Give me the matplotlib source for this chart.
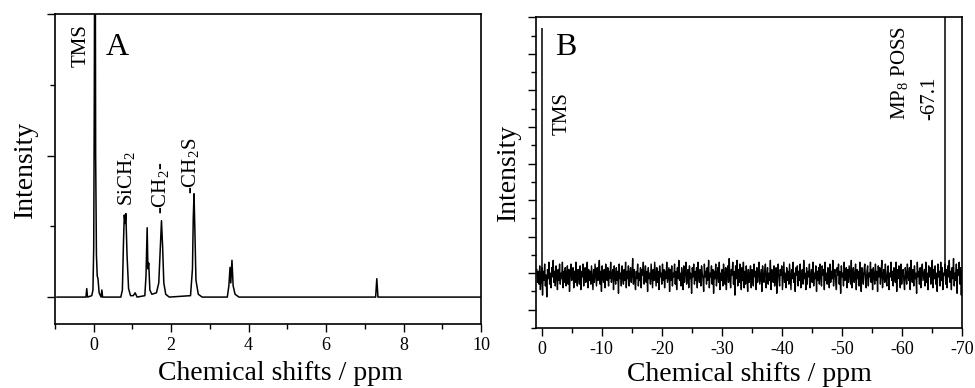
import matplotlib.pyplot as plt
import numpy as np
from matplotlib.ticker import MultipleLocator, NullFormatter

plt.rcParams['font.family'] = ['Liberation Serif', 'DejaVu Serif']
plt.rcParams['mathtext.fontset'] = 'custom'
plt.rcParams['mathtext.rm'] = 'Liberation Serif'
plt.rcParams['axes.unicode_minus'] = False

# Panel A: 1H spectrum (ppm, intensity)
a_ppm = [-0.95, -0.20, -0.18, -0.16, -0.05, -0.02, 0.00, 0.015, 0.025, 0.04, 0.05, 0.07,
         0.09, 0.11, 0.14, 0.19, 0.21, 0.23, 0.70, 0.74, 0.77, 0.79, 0.81, 0.83, 0.86,
         0.90, 0.95, 1.02, 1.07, 1.12, 1.32, 1.35, 1.38, 1.40, 1.42, 1.43, 1.45, 1.50,
         1.62, 1.68, 1.72, 1.75, 1.78, 1.81, 1.86, 1.95, 2.50, 2.55, 2.57, 2.59, 2.61,
         2.64, 2.70, 2.80, 3.45, 3.49, 3.52, 3.54, 3.57, 3.60, 3.65, 3.75, 7.28, 7.31,
         7.34, 10.0]
a_int = [0.0, 0.0, 0.06, 0.0, 0.01, 0.05, 0.35, 1.40, 2.60, 2.60, 1.00, 0.30,
         0.15, 0.13, 0.03, 0.0, 0.05, 0.0, 0.0, 0.05, 0.40, 0.58, 0.52, 0.59, 0.30,
         0.06, 0.01, 0.01, 0.03, 0.0, 0.01, 0.15, 0.49, 0.20, 0.24, 0.18, 0.05, 0.02,
         0.03, 0.10, 0.35, 0.54, 0.35, 0.10, 0.02, 0.0, 0.01, 0.20, 0.55, 0.73, 0.50,
         0.12, 0.02, 0.0, 0.0, 0.08, 0.21, 0.10, 0.26, 0.08, 0.02, 0.0, 0.0, 0.13,
         0.0, 0.0]

# Panel B: 29Si spectrum, baseline noise
b_noise = [
    0.10, -0.25, 0.05, -0.30, 0.20, -0.45, -0.10, 0.15, -0.60, 0.05, -0.20, 0.25, -0.35, -0.05, -0.65, 0.10, -0.15, 0.30, -0.30, 0.00,
    -0.40, 0.15, -0.10, 0.35, -0.25, 0.05, -0.35, 0.20, -0.05, -0.45, 0.10, -0.20, 0.25, -0.30, 0.00, -0.15, 0.30, -0.40, 0.05, -0.25,
    0.15, -0.35, -0.05, 0.20, -0.30, 0.10, -0.50, 0.00, 0.25, -0.20, -0.10, 0.15, -0.40, 0.05, -0.25, 0.30, -0.15, -0.35, 0.10, -0.05,
    -0.30, 0.20, -0.45, 0.05, -0.10, 0.25, -0.35, 0.00, 0.15, -0.25, -0.05, 0.30, -0.40, 0.10, -0.20, 0.05, -0.30, 0.20, -0.15, -0.45,
    0.10, -0.25, 0.25, -0.05, -0.35, 0.15, -0.20, 0.00, 0.35, -0.30, 0.05, -0.50, 0.20, -0.10, -0.25, 0.10, -0.40, 0.25, -0.05, -0.20,
    0.15, -0.35, 0.05, -0.15, 0.30, -0.25, -0.05, 0.10, -0.45, 0.20, -0.10, -0.30, 0.15, -0.20, 0.05, -0.55, 0.25, -0.15, 0.00, -0.35,
    0.20, -0.10, -0.30, 0.10, -0.20, 0.30, -0.40, 0.05, -0.15, 0.20, -0.35, 0.00, 0.15, -0.25, -0.05, 0.40, -0.30, 0.10, -0.20, -0.45,
    0.05, -0.15, 0.25, -0.35, 0.00, -0.20, 0.15, -0.40, 0.10, -0.05, 0.30, -0.30, -0.10, 0.20, -0.25, 0.05, -0.50, 0.15, -0.15, 0.00,
    -0.30, 0.25, -0.10, -0.40, 0.10, -0.20, 0.30, -0.05, -0.35, 0.15, -0.25, 0.05, -0.45, 0.20, -0.10, 0.00, -0.30, 0.25, -0.20, 0.10,
    -0.40, 0.05, -0.15, 0.30, -0.25, -0.05, 0.15, -0.50, 0.10, -0.20, 0.20, -0.35, 0.00, -0.10, 0.25, -0.30, 0.05, -0.45, 0.15, -0.15,
    0.35, -0.20, 0.00, -0.35, 0.15, -0.10, -0.45, 0.20, -0.25, 0.05, 0.30, -0.30, -0.05, 0.10, -0.40, 0.20, -0.15, 0.00, -0.55, 0.15,
    -0.10, 0.25, -0.30, 0.05, -0.20, 0.15, -0.40, 0.30, -0.05, -0.25, 0.10, -0.35, 0.20, 0.00, -0.15, -0.50, 0.25, -0.10, 0.05, -0.30,
    0.15, -0.20, 0.35, -0.40, 0.00, -0.10, 0.20, -0.30, 0.10, -0.55, 0.05, -0.15, 0.25, -0.35, -0.05, 0.15, -0.25, 0.30, -0.45, 0.00,
    -0.20, 0.10, -0.35, 0.25, -0.05, -0.30, 0.15, -0.45, 0.05, 0.20, -0.25, 0.40, -0.15, -0.40, 0.10, -0.05, 0.30, -0.30, 0.05, -0.60,
    0.20, -0.15, 0.35, -0.35, 0.10, -0.25, 0.25, -0.05, -0.45, 0.15, -0.20, 0.30, -0.40, 0.05, -0.30, 0.20, -0.10, -0.50, 0.10, -0.25,
    -0.05, 0.20, -0.40, 0.10, -0.15, -0.35, 0.25, -0.10, 0.05, -0.45, 0.15, -0.25, 0.00, 0.30, -0.30, -0.10, 0.10, -0.50, 0.20, -0.05,
    -0.25, 0.05, 0.25, -0.40, -0.10, 0.15, -0.30, 0.00, -0.20, 0.35, -0.45, 0.10, -0.05, -0.25, 0.20, -0.35, 0.05, 0.15, -0.55, 0.00,
    0.25, -0.15, -0.35, 0.10, -0.05, 0.20, -0.45, -0.10, 0.30, -0.25, 0.00, -0.40, 0.15, -0.20, 0.05, -0.30, 0.25, -0.10, -0.45, 0.10,
    -0.15, 0.30, -0.25, 0.00, -0.50, 0.15, -0.05, 0.20, -0.35, 0.05, -0.20, 0.25, -0.40, -0.10, 0.10, -0.30, 0.35, -0.15, 0.00, -0.45,
    0.15, -0.30, 0.05, -0.10, 0.25, -0.40, -0.05, 0.10, -0.25, 0.30, -0.35, 0.00, -0.15, 0.20, -0.50, 0.05, -0.20, 0.15, -0.30, 0.25,
    -0.10, -0.35, 0.20, -0.05, 0.10, -0.45, 0.30, -0.20, 0.00, -0.30, 0.15, -0.10, -0.40, 0.25, -0.25, 0.05, -0.15, 0.35, -0.35, 0.00,
    0.10, -0.20, -0.45, 0.15, -0.05, 0.25, -0.30, 0.05, -0.55, 0.20, -0.10, 0.00, -0.35, 0.30, -0.20, -0.05, 0.15, -0.40, 0.10, -0.25,
    0.20, -0.05, -0.30, 0.35, -0.40, 0.00, 0.15, -0.25, -0.10, 0.25, -0.45, 0.10, -0.15, 0.05, -0.35, 0.30, -0.20, -0.50, 0.15, -0.05,
    -0.30, 0.10, 0.25, -0.15, -0.40, 0.05, 0.20, -0.35, 0.00, -0.10, 0.30, -0.25, 0.10, -0.45, 0.15, -0.05, -0.30, 0.25, -0.20, 0.05,
    -0.50, 0.20, -0.10, 0.15, -0.30, 0.00, 0.35, -0.40, -0.05, 0.10, -0.25, 0.25, -0.15, -0.35, 0.05, 0.20, -0.45, 0.00, -0.10, 0.30,
    -0.20, 0.05, -0.35, 0.15, 0.00, -0.25, 0.30, -0.50, 0.10, -0.15, 0.20, -0.05, -0.40, 0.25, -0.30, 0.05, 0.10, -0.20, -0.45, 0.15,
    0.00, -0.30, 0.25, -0.10, -0.20, 0.15, -0.45, 0.35, -0.05, -0.25, 0.10, -0.35, 0.20, -0.15, 0.00, -0.55, 0.30, -0.10, 0.05, -0.30,
    0.15, -0.40, 0.05, 0.25, -0.20, -0.05, 0.10, -0.35, 0.30, -0.25, 0.00, -0.45, 0.20, -0.10, 0.15, -0.30, -0.05, 0.35, -0.40, 0.10,
    -0.15, 0.20, -0.30, 0.00, -0.50, 0.25, -0.10, 0.05, -0.35, 0.30, -0.20, 0.15, -0.45, 0.00, -0.05, 0.25, -0.30, 0.10, -0.40, 0.20,
    -0.10, 0.35, -0.25, 0.05, -0.45, 0.15, -0.15, 0.40, -0.35, 0.00, -0.20, 0.25, -0.55, 0.10, -0.05, 0.30, -0.30, 0.15, -0.60, 0.05,
]
b_ppm = np.linspace(0.8, -70.0, len(b_noise))
b_peak_ppm = [0.0, -67.1]
b_peak_top = [6.7, 7.5]

fig = plt.figure(figsize=(9.75, 3.88), dpi=100)
axA = fig.add_axes([0.0564, 0.165, 0.4369, 0.799])
axB = fig.add_axes([0.5497, 0.1546, 0.437, 0.8008])

axA.plot(a_ppm, a_int, color='black', lw=1.1)
axA.set_xlim(-1, 10)
axA.set_ylim(-0.19, 2.0)
axA.xaxis.set_major_locator(MultipleLocator(2))
axA.xaxis.set_minor_locator(MultipleLocator(1))
axA.yaxis.set_major_locator(MultipleLocator(1))
axA.yaxis.set_minor_locator(MultipleLocator(0.5))
axA.text(0.12, 0.94, 'A', transform=axA.transAxes, fontsize=23, va='top', ha='left')
axA.text(-0.32, 1.93, 'TMS', rotation=90, fontsize=15, ha='center', va='top')
axA.text(0.87, 0.64, r'SiCH$_\mathrm{2}$', rotation=90, fontsize=15, ha='center', va='bottom')
axA.text(1.73, 0.59, r'-CH$_\mathrm{2}$-', rotation=90, fontsize=15, ha='center', va='bottom')
axA.text(2.53, 0.73, r'-CH$_\mathrm{2}$S', rotation=90, fontsize=15, ha='center', va='bottom')

axB.plot(b_ppm, b_noise, color='black', lw=1.0)
axB.vlines(b_peak_ppm, 0, b_peak_top, color='black', lw=1.1)
axB.set_xlim(0.95, -70)
axB.set_ylim(-1.5, 7)
axB.xaxis.set_major_locator(MultipleLocator(10))
axB.xaxis.set_minor_locator(MultipleLocator(5))
axB.yaxis.set_major_locator(MultipleLocator(1))
axB.yaxis.set_minor_locator(MultipleLocator(0.5))
axB.text(0.045, 0.95, 'B', transform=axB.transAxes, fontsize=23, va='top', ha='left')
axB.text(-3.47, 3.77, 'TMS', rotation=90, fontsize=15, ha='center', va='bottom')
axB.text(-59.7, 4.18, r'MP$_\mathrm{8}$ POSS', rotation=90, fontsize=15, ha='center', va='bottom')
axB.text(-64.7, 4.18, '-67.1', rotation=90, fontsize=15, ha='center', va='bottom')

for ax, ylpad in ((axA, 3), (axB, 1)):
    ax.set_xlabel('Chemical shifts / ppm', fontsize=20)
    ax.set_ylabel('Intensity', fontsize=20, labelpad=ylpad)
    ax.yaxis.set_major_formatter(NullFormatter())
    ax.tick_params(which='both', direction='out', top=False, right=False, labelsize=13, width=1)
    ax.tick_params(which='major', length=6)
    ax.tick_params(which='minor', length=3.5)
    for s in ax.spines.values():
        s.set_linewidth(1.2)
axA.xaxis.set_label_coords(0.53, -0.118)
axB.xaxis.set_label_coords(0.5, -0.108)

fig.savefig('out.png', dpi=100)
